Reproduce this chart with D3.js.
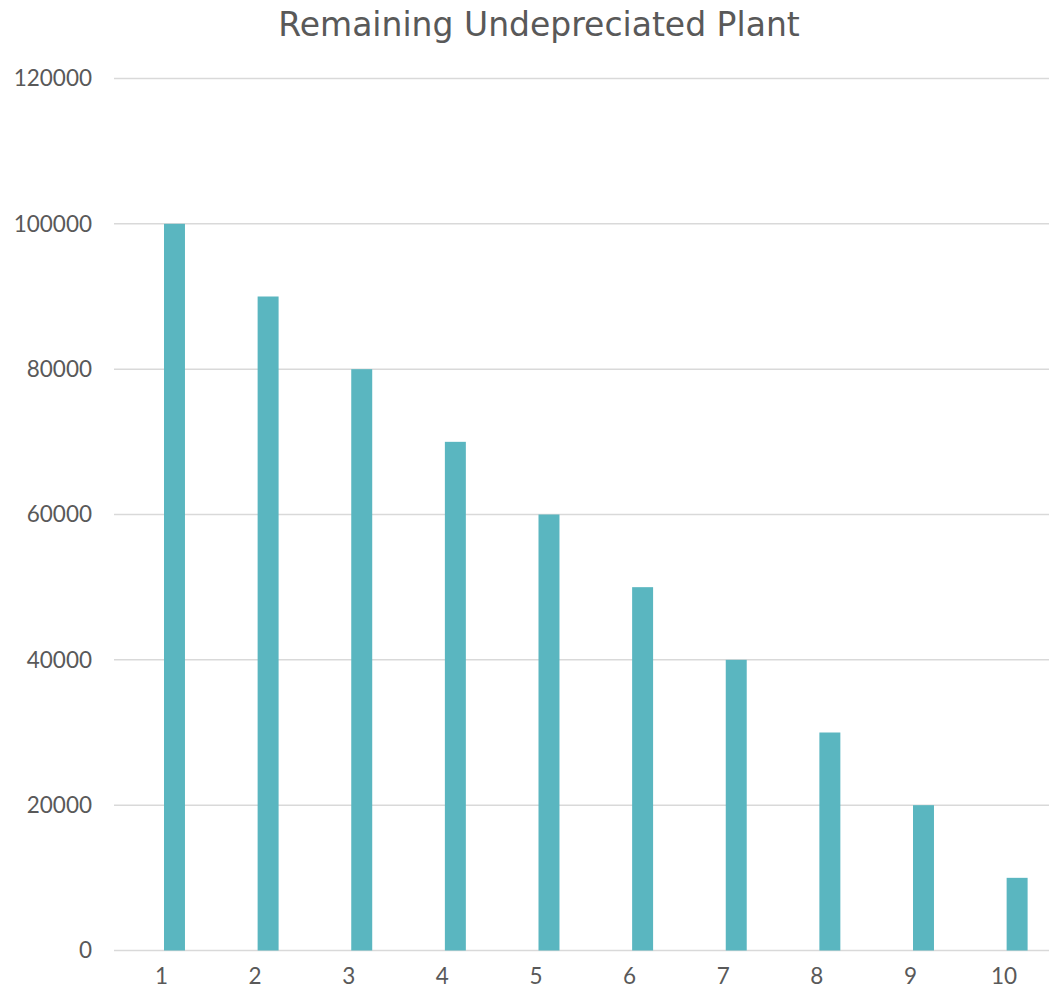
<!DOCTYPE html>
<html>
<head>
<meta charset="utf-8">
<script src="https://cdn.jsdelivr.net/npm/d3@7"></script>
<style>
  html, body { margin: 0; padding: 0; background: #fff; }
  svg { display: block; }
  text { fill: #595959; }
</style>
</head>
<body>
<svg id="chart" width="1049" height="995"></svg>
<script>
// Remaining undepreciated plant, by year
const years = ["1", "2", "3", "4", "5", "6", "7", "8", "9", "10"];
const remaining = [100000, 90000, 80000, 70000, 60000, 50000, 40000, 30000, 20000, 10000];
const yTicks = [0, 20000, 40000, 60000, 80000, 100000, 120000];
const chartTitle = "Remaining Undepreciated Plant";

const W = 1049, H = 995;
const tickFont = "Lato, sans-serif";
const svg = d3.select("#chart");

const x = d3.scaleBand()
  .domain(years)
  .range([114, 1077.6])
  .paddingInner(0.776)
  .paddingOuter(0.534);

const y = d3.scaleLinear()
  .domain([0, 120000])
  .range([950.5, 78.5]);

// horizontal gridlines
svg.append("g")
  .selectAll("line")
  .data(yTicks)
  .join("line")
  .attr("x1", 114)
  .attr("x2", W)
  .attr("y1", d => y(d))
  .attr("y2", d => y(d))
  .attr("stroke", "#d9d9d9")
  .attr("stroke-width", 1.5);

// bars
svg.append("g")
  .selectAll("rect")
  .data(remaining)
  .join("rect")
  .attr("x", (d, i) => x(years[i]))
  .attr("width", x.bandwidth())
  .attr("y", d => y(d))
  .attr("height", d => y(0) - y(d))
  .attr("fill", "#5ab6c0");

// y axis labels
const yAxis = d3.axisLeft(y).tickValues(yTicks).tickSize(0).tickPadding(0).tickFormat(d3.format("d"));
svg.append("g")
  .attr("transform", "translate(92,0)")
  .call(yAxis)
  .call(g => g.select(".domain").remove())
  .call(g => g.selectAll("text")
    .style("font-family", tickFont)
    .style("font-size", "22.5px")
    .attr("fill", "#595959"));

// x axis labels, set slightly left of the bar centres
const xAxis = d3.axisBottom(x).tickSize(0).tickPadding(0);
svg.append("g")
  .attr("transform", "translate(-13,968)")
  .call(xAxis)
  .call(g => g.select(".domain").remove())
  .call(g => g.selectAll("text")
    .style("font-family", tickFont)
    .style("font-size", "22.5px")
    .attr("fill", "#595959"));

// title
svg.append("text")
  .attr("x", 539)
  .attr("y", 36)
  .attr("text-anchor", "middle")
  .style("font-family", "'DejaVu Sans', sans-serif")
  .style("font-size", "33px")
  .text(chartTitle);
</script>
</body>
</html>
